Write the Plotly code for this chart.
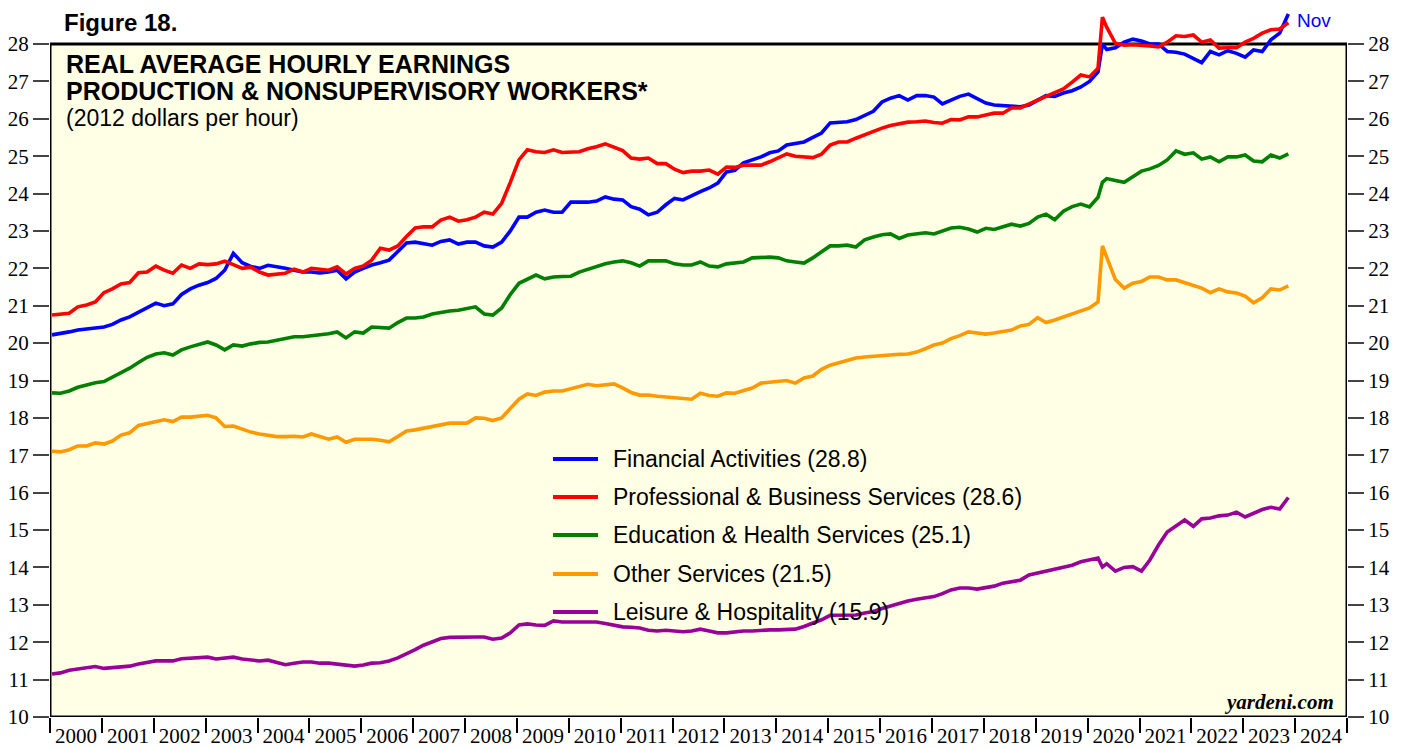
import datetime as dt
import plotly.graph_objects as go

# ---------------- data (bi-monthly readings, plus April 2020) ----------------
years = list(range(2000, 2024))
months = [1, 3, 5, 7, 9, 11]
dates = sorted([dt.date(y, m, 15) for y in years for m in months] + [dt.date(2020, 4, 15)])

financial = [
    20.22, 20.25, 20.30, 20.35, 20.38, 20.40,  # 2000
    20.43, 20.50, 20.62, 20.70, 20.83, 20.95,  # 2001
    21.07, 21.00, 21.05, 21.30, 21.45, 21.55,  # 2002
    21.62, 21.73, 21.95, 22.40, 22.15, 22.05,  # 2003
    22.00, 22.08, 22.05, 22.00, 21.95, 21.90,  # 2004
    21.90, 21.88, 21.90, 21.95, 21.72, 21.90,  # 2005
    22.00, 22.09, 22.15, 22.22, 22.45, 22.68,  # 2006
    22.70, 22.65, 22.62, 22.72, 22.76, 22.65,  # 2007
    22.70, 22.70, 22.60, 22.57, 22.70, 23.00,  # 2008
    23.37, 23.37, 23.50, 23.56, 23.50, 23.50,  # 2009
    23.77, 23.77, 23.77, 23.80, 23.91, 23.85,  # 2010
    23.83, 23.65, 23.58, 23.43, 23.50, 23.70,  # 2011
    23.87, 23.83, 23.95, 24.05, 24.15, 24.28,  # 2012
    24.58, 24.62, 24.82, 24.90, 24.98, 25.09,  # 2013
    25.14, 25.30, 25.35, 25.38, 25.50, 25.62,  # 2014
    25.89, 25.90, 25.92, 25.98, 26.10, 26.20,  # 2015
    26.45, 26.55, 26.62, 26.50, 26.62, 26.62,  # 2016
    26.58, 26.40, 26.50, 26.60, 26.66, 26.55,  # 2017
    26.42, 26.37, 26.35, 26.34, 26.32, 26.37,  # 2018
    26.50, 26.62, 26.60, 26.69, 26.75, 26.85,  # 2019
    27.00, 27.25, 28.00, 27.85, 27.90, 28.05, 28.13,  # 2020 (incl. Apr)
    28.08, 28.00, 28.00, 27.80, 27.78, 27.73,  # 2021
    27.60, 27.50, 27.80, 27.71, 27.82, 27.75,  # 2022
    27.65, 27.84, 27.80, 28.11, 28.29, 28.80,  # 2023
]

professional = [
    20.75, 20.78, 20.80, 20.97, 21.02, 21.10,  # 2000
    21.35, 21.45, 21.58, 21.62, 21.88, 21.90,  # 2001
    22.06, 21.95, 21.87, 22.09, 22.00, 22.12,  # 2002
    22.10, 22.12, 22.19, 22.10, 22.00, 22.03,  # 2003
    21.90, 21.82, 21.85, 21.87, 21.98, 21.90,  # 2004
    22.00, 21.97, 21.95, 22.04, 21.85, 22.00,  # 2005
    22.06, 22.22, 22.54, 22.49, 22.60, 22.85,  # 2006
    23.08, 23.11, 23.11, 23.29, 23.37, 23.26,  # 2007
    23.30, 23.37, 23.50, 23.45, 23.74, 24.30,  # 2008
    24.90, 25.17, 25.12, 25.10, 25.17, 25.10,  # 2009
    25.10, 25.12, 25.20, 25.25, 25.33, 25.25,  # 2010
    25.15, 24.95, 24.92, 24.95, 24.80, 24.80,  # 2011
    24.65, 24.56, 24.60, 24.60, 24.63, 24.52,  # 2012
    24.71, 24.70, 24.76, 24.76, 24.76, 24.85,  # 2013
    24.95, 25.06, 25.00, 24.98, 24.96, 25.05,  # 2014
    25.30, 25.38, 25.38, 25.48, 25.57, 25.68,  # 2015
    25.75, 25.82, 25.86, 25.91, 25.92, 25.94,  # 2016
    25.90, 25.88, 25.98, 25.97, 26.05, 26.05,  # 2017
    26.10, 26.15, 26.15, 26.29, 26.29, 26.40,  # 2018
    26.50, 26.60, 26.70, 26.80, 26.98, 27.17,  # 2019
    27.12, 27.35, 28.72, 28.45, 28.02, 27.97, 27.98,  # 2020 (incl. Apr)
    27.97, 27.95, 27.92, 28.05, 28.22, 28.20,  # 2021
    28.24, 28.05, 28.11, 27.89, 27.90, 27.90,  # 2022
    28.05, 28.15, 28.29, 28.38, 28.40, 28.57,  # 2023
]

education = [
    18.67, 18.66, 18.72, 18.82, 18.88, 18.94,  # 2000
    18.97, 19.09, 19.20, 19.33, 19.48, 19.62,  # 2001
    19.71, 19.74, 19.68, 19.82, 19.90, 19.97,  # 2002
    20.03, 19.95, 19.82, 19.95, 19.92, 19.98,  # 2003
    20.02, 20.03, 20.07, 20.12, 20.17, 20.17,  # 2004
    20.19, 20.22, 20.25, 20.30, 20.14, 20.30,  # 2005
    20.27, 20.43, 20.42, 20.40, 20.55, 20.67,  # 2006
    20.67, 20.70, 20.78, 20.83, 20.86, 20.88,  # 2007
    20.92, 20.97, 20.78, 20.75, 20.94, 21.30,  # 2008
    21.60, 21.70, 21.82, 21.72, 21.77, 21.78,  # 2009
    21.79, 21.90, 21.98, 22.04, 22.12, 22.17,  # 2010
    22.20, 22.15, 22.06, 22.20, 22.20, 22.20,  # 2011
    22.12, 22.09, 22.09, 22.17, 22.06, 22.04,  # 2012
    22.12, 22.15, 22.17, 22.28, 22.30, 22.30,  # 2013
    22.28, 22.20, 22.17, 22.14, 22.28, 22.44,  # 2014
    22.60, 22.60, 22.62, 22.57, 22.76, 22.84,  # 2015
    22.90, 22.92, 22.80, 22.89, 22.92, 22.95,  # 2016
    22.92, 23.00, 23.08, 23.10, 23.05, 22.97,  # 2017
    23.07, 23.04, 23.10, 23.18, 23.13, 23.20,  # 2018
    23.37, 23.45, 23.30, 23.53, 23.65, 23.72,  # 2019
    23.64, 23.90, 24.30, 24.40, 24.35, 24.30, 24.45,  # 2020 (incl. Apr)
    24.60, 24.66, 24.75, 24.90, 25.14, 25.05,  # 2021
    25.09, 24.92, 24.98, 24.85, 24.98, 24.98,  # 2022
    25.03, 24.87, 24.85, 25.03, 24.95, 25.06,  # 2023
]

other = [
    17.11, 17.09, 17.15, 17.25, 17.25, 17.33,  # 2000
    17.30, 17.38, 17.54, 17.60, 17.80, 17.85,  # 2001
    17.89, 17.95, 17.90, 18.02, 18.02, 18.04,  # 2002
    18.07, 18.00, 17.77, 17.78, 17.70, 17.62,  # 2003
    17.57, 17.53, 17.50, 17.50, 17.51, 17.49,  # 2004
    17.57, 17.50, 17.43, 17.49, 17.35, 17.43,  # 2005
    17.43, 17.43, 17.40, 17.36, 17.50, 17.65,  # 2006
    17.68, 17.72, 17.77, 17.81, 17.86, 17.86,  # 2007
    17.86, 18.00, 17.99, 17.93, 18.00, 18.25,  # 2008
    18.50, 18.64, 18.60, 18.69, 18.72, 18.72,  # 2009
    18.78, 18.83, 18.90, 18.86, 18.88, 18.91,  # 2010
    18.80, 18.68, 18.61, 18.61, 18.58, 18.56,  # 2011
    18.53, 18.50, 18.50, 18.66, 18.60, 18.58,  # 2012
    18.67, 18.66, 18.72, 18.80, 18.93, 18.95,  # 2013
    18.96, 19.00, 18.93, 19.07, 19.12, 19.30,  # 2014
    19.41, 19.48, 19.55, 19.60, 19.63, 19.65,  # 2015
    19.68, 19.68, 19.70, 19.71, 19.76, 19.85,  # 2016
    19.95, 20.00, 20.12, 20.20, 20.30, 20.27,  # 2017
    20.24, 20.27, 20.30, 20.35, 20.46, 20.50,  # 2018
    20.68, 20.55, 20.62, 20.70, 20.78, 20.88,  # 2019
    20.94, 21.10, 22.60, 22.30, 21.70, 21.47, 21.60,  # 2020 (incl. Apr)
    21.65, 21.77, 21.77, 21.69, 21.69, 21.62,  # 2021
    21.55, 21.47, 21.35, 21.45, 21.37, 21.34,  # 2022
    21.26, 21.08, 21.21, 21.45, 21.42, 21.53,  # 2023
]

leisure = [
    11.15, 11.18, 11.25, 11.28, 11.31, 11.35,  # 2000
    11.30, 11.32, 11.34, 11.36, 11.42, 11.46,  # 2001
    11.50, 11.50, 11.50, 11.56, 11.58, 11.60,  # 2002
    11.60, 11.55, 11.58, 11.60, 11.55, 11.52,  # 2003
    11.50, 11.52, 11.45, 11.40, 11.44, 11.47,  # 2004
    11.47, 11.44, 11.44, 11.42, 11.38, 11.36,  # 2005
    11.39, 11.44, 11.45, 11.50, 11.58, 11.68,  # 2006
    11.80, 11.92, 12.00, 12.10, 12.13, 12.14,  # 2007
    12.14, 12.14, 12.14, 12.08, 12.11, 12.25,  # 2008
    12.46, 12.49, 12.46, 12.45, 12.57, 12.54,  # 2009
    12.54, 12.54, 12.54, 12.54, 12.50, 12.46,  # 2010
    12.41, 12.40, 12.38, 12.32, 12.30, 12.32,  # 2011
    12.30, 12.28, 12.30, 12.35, 12.30, 12.25,  # 2012
    12.25, 12.28, 12.30, 12.30, 12.32, 12.33,  # 2013
    12.33, 12.34, 12.35, 12.42, 12.50, 12.60,  # 2014
    12.72, 12.73, 12.73, 12.73, 12.78, 12.82,  # 2015
    12.90, 12.97, 13.05, 13.10, 13.15, 13.18,  # 2016
    13.22, 13.30, 13.40, 13.45, 13.45, 13.42,  # 2017
    13.45, 13.50, 13.58, 13.62, 13.66, 13.80,  # 2018
    13.85, 13.90, 13.95, 14.00, 14.06, 14.15,  # 2019
    14.20, 14.25, 14.01, 14.10, 13.90, 14.00, 14.02,  # 2020 (incl. Apr)
    13.90, 14.20, 14.60, 14.95, 15.10, 15.27,  # 2021
    15.10, 15.30, 15.32, 15.38, 15.40, 15.48,  # 2022
    15.35, 15.45, 15.55, 15.61, 15.56, 15.87,  # 2023
]

series_names = [
    "Financial Activities",
    "Professional & Business Services",
    "Education & Health Services",
    "Other Services",
    "Leisure & Hospitality",
]
series_values = [financial, professional, education, other, leisure]
series_colors = ["#0000FF", "#FF0000", "#008000", "#FF9900", "#990099"]

y_ticks = list(range(10, 29))

# ---------------- geometry (page pixels; the page body adds an 8px offset) ----------------
OFF = 8
PAGE_W, PAGE_H = 1405, 748
W, H = PAGE_W - OFF, PAGE_H - OFF
plot_left, plot_right = 50, 1347          # page px
plot_top, plot_bottom = 8, 717            # page px
frame_top = 44                            # page px of y=28
ML = plot_left - OFF
MR = PAGE_W - plot_right
MT = plot_top - OFF
MB = PAGE_H - plot_bottom
px_per_unit = (plot_bottom - frame_top) / 18
y_top = 28 + (frame_top - plot_top) / px_per_unit

def px_to_paper_x(px):
    return (px - plot_left) / (plot_right - plot_left)

def px_to_paper_y(py):
    return (plot_bottom - py) / (plot_bottom - plot_top)

fig = go.Figure()
for name, vals, col in zip(series_names, series_values, series_colors):
    assert len(vals) == len(dates), (name, len(vals), len(dates))
    fig.add_trace(go.Scatter(x=dates, y=vals, mode="lines", name=name,
                             line=dict(color=col, width=3.6), showlegend=False,
                             hoverinfo="skip"))

# dummy trace to activate right axis
fig.add_trace(go.Scatter(x=[dates[0]], y=[10], yaxis="y2", mode="markers",
                         marker=dict(opacity=0), showlegend=False, hoverinfo="skip"))

tick_font = dict(family="Liberation Serif", size=21, color="black")

fig.update_layout(
    width=W, height=H,
    margin=dict(l=ML, r=MR, t=MT, b=MB, autoexpand=False),
    paper_bgcolor="white", plot_bgcolor="white",
    showlegend=False, hovermode=False,
    xaxis=dict(type="date", range=["2000-01-01", "2025-01-01"],
               tick0="2000-01-01", dtick="M12", tickformat="%Y",
               ticklabelmode="period", ticks="outside", ticklen=15,
               tickwidth=2, tickcolor="black", showgrid=False,
               zeroline=False, showline=False, tickfont=tick_font,
               ticklabelstandoff=-15, automargin=False),
    yaxis=dict(range=[10, y_top], tickmode="array", tickvals=y_ticks,
               ticks="outside", ticklen=16, tickwidth=2, tickcolor="#444444",
               showgrid=False, zeroline=False, showline=False,
               tickfont=tick_font, automargin=False),
    yaxis2=dict(range=[10, y_top], tickmode="array", tickvals=y_ticks,
                overlaying="y", side="right",
                ticks="outside", ticklen=16, tickwidth=2, tickcolor="#444444",
                showgrid=False, zeroline=False, showline=False,
                tickfont=tick_font, automargin=False),
)

# plot frame with light-yellow fill
fig.add_shape(type="rect", xref="x", yref="y",
              x0="2000-01-01", x1="2025-01-01", y0=10, y1=28,
              fillcolor="#FFFFE6", line=dict(color="black", width=3),
              layer="below")

# titles
bold = dict(family="Liberation Sans", size=25, color="black")
fig.add_annotation(text="<b>Figure 18.</b>", xref="paper", yref="paper",
                   x=px_to_paper_x(63), y=px_to_paper_y(8), xanchor="left",
                   yanchor="top", showarrow=False,
                   font=dict(family="Liberation Sans", size=24, color="black"),
                   borderpad=0)
fig.add_annotation(text="<b>REAL AVERAGE HOURLY EARNINGS</b>", xref="paper", yref="paper",
                   x=px_to_paper_x(64), y=px_to_paper_y(64), xanchor="left",
                   yanchor="middle", showarrow=False, font=bold)
fig.add_annotation(text="<b>PRODUCTION & NONSUPERVISORY WORKERS*</b>", xref="paper", yref="paper",
                   x=px_to_paper_x(64), y=px_to_paper_y(91), xanchor="left",
                   yanchor="middle", showarrow=False, font=bold)
fig.add_annotation(text="(2012 dollars per hour)", xref="paper", yref="paper",
                   x=px_to_paper_x(64), y=px_to_paper_y(118), xanchor="left",
                   yanchor="middle", showarrow=False,
                   font=dict(family="Liberation Sans", size=23, color="black"))

# manual legend
leg_rows = [459, 497, 535, 574, 612]
for name, vals, col, ry in zip(series_names, series_values, series_colors, leg_rows):
    fig.add_shape(type="line", xref="paper", yref="paper",
                  x0=px_to_paper_x(553), x1=px_to_paper_x(598),
                  y0=px_to_paper_y(ry), y1=px_to_paper_y(ry),
                  line=dict(color=col, width=4))
    fig.add_annotation(text=f"{name} ({vals[-1]:.1f})", xref="paper", yref="paper",
                       x=px_to_paper_x(611), y=px_to_paper_y(ry), xanchor="left",
                       yanchor="middle", showarrow=False,
                       font=dict(family="Liberation Sans", size=23, color="black"))

# last-month label
fig.add_annotation(text=dates[-1].strftime("%b"), xref="paper", yref="paper",
                   x=px_to_paper_x(1296), y=px_to_paper_y(9),
                   xanchor="left", yanchor="top", showarrow=False, borderpad=0,
                   font=dict(family="Liberation Sans", size=19, color="#0000FF"))

# source
fig.add_annotation(text="<b><i>yardeni.com</i></b>", xref="paper", yref="paper",
                   x=px_to_paper_x(1336), y=px_to_paper_y(702), xanchor="right",
                   yanchor="middle", showarrow=False,
                   font=dict(family="Liberation Serif", size=21, color="black"))

fig.write_html("out.html")
